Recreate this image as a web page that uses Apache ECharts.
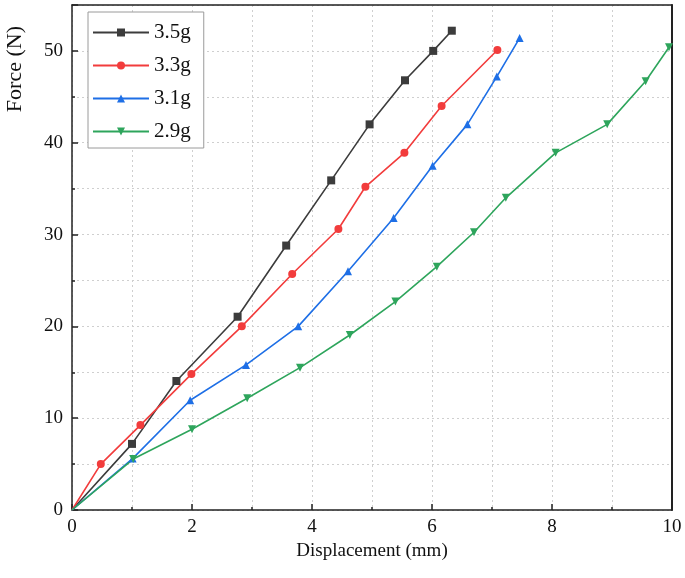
<!DOCTYPE html>
<html><head><meta charset="utf-8">
<script src="https://cdn.jsdelivr.net/npm/echarts@6/dist/echarts.min.js"></script>
<style>html,body{margin:0;padding:0;background:#fff}#c{width:685px;height:578px}</style>
</head><body><div id="c"></div>
<script>
const seriesNames = ['3.5g', '3.3g', '3.1g', '2.9g'];
const x35 = [0, 1.0, 1.74, 2.76, 3.57, 4.32, 4.96, 5.55, 6.02, 6.33];
const y35 = [0, 7.2, 14.05, 21.05, 28.8, 35.9, 42.0, 46.8, 50.0, 52.2];
const x33 = [0, 0.48, 1.14, 1.99, 2.83, 3.67, 4.44, 4.89, 5.54, 6.16, 7.09];
const y33 = [0, 5.0, 9.25, 14.8, 20.0, 25.7, 30.6, 35.2, 38.9, 44.0, 50.1];
const x31 = [0, 1.01, 1.97, 2.9, 3.77, 4.6, 5.36, 6.01, 6.59, 7.08, 7.46];
const y31 = [0, 5.6, 11.95, 15.8, 20.0, 26.0, 31.8, 37.5, 42.0, 47.2, 51.4];
const x29 = [0, 1.02, 2.0, 2.92, 3.8, 4.63, 5.39, 6.08, 6.7, 7.23, 8.06, 8.92, 9.56, 9.95];
const y29 = [0, 5.55, 8.8, 12.17, 15.5, 19.06, 22.7, 26.5, 30.25, 34.0, 38.9, 42.0, 46.7, 50.4];
const xTicks = [0, 2, 4, 6, 8, 10];
const yTicks = [0, 10, 20, 30, 40, 50];

const colors = ['#3c3c3c', '#f23c3c', '#1e6fe6', '#2ea55c'];
const symbols = ['rect', 'circle', 'triangle', 'triangle'];
const rotates = [0, 0, 0, 180];
const xs = [x35, x33, x31, x29], ys = [y35, y33, y31, y29];
const font = '"Liberation Serif", "Times New Roman", serif';

function pts(xa, ya) {
  return xa.map((x, i) => i === 0 ? {value: [x, ya[i]], symbol: 'none'} : [x, ya[i]]);
}

const chart = echarts.init(document.getElementById('c'), null, {renderer: 'canvas'});
const split = {show: true, lineStyle: {color: '#cfcfcf', type: [2, 3], width: 1}};
const axLine = {show: true, onZero: false, lineStyle: {color: '#222', width: 1.5}};
const tick = {show: true, inside: true, length: 6, lineStyle: {color: '#222', width: 1.5}};
const mtick = {show: true, splitNumber: 2, length: 3, lineStyle: {color: '#222', width: 1.5}};
chart.setOption({
  animation: false,
  grid: {left: 72, right: 13, top: 5, bottom: 68},
  legend: {
    left: 88, top: 12, orient: 'vertical',
    data: seriesNames,
    backgroundColor: '#fff', borderColor: '#9a9a9a', borderWidth: 1,
    padding: [10, 13, 6, 4], itemGap: 12, itemWidth: 56, itemHeight: 10,
    textStyle: {fontFamily: font, fontSize: 21, color: '#111', lineHeight: 20}
  },
  xAxis: [{
    type: 'value', min: 0, max: 10, interval: 2,
    name: 'Displacement (mm)', nameLocation: 'middle', nameGap: 30,
    nameTextStyle: {fontFamily: font, fontSize: 19, color: '#111'},
    axisLine: axLine, axisTick: tick, minorTick: mtick,
    axisLabel: {fontFamily: font, fontSize: 19, color: '#111', margin: 8,
      formatter: v => xTicks.includes(v) ? String(v) : ''},
    splitLine: split, minorSplitLine: split
  }, {
    type: 'value', min: 0, max: 10, position: 'top',
    axisLine: axLine, axisTick: {show: false}, axisLabel: {show: false}, splitLine: {show: false}
  }],
  yAxis: [{
    type: 'value', min: 0, max: 55, interval: 10,
    axisLine: axLine, axisTick: tick, minorTick: mtick,
    axisLabel: {fontFamily: font, fontSize: 19, color: '#111', margin: 9,
      formatter: v => yTicks.includes(v) ? String(v) : ''},
    splitLine: split, minorSplitLine: split
  }, {
    type: 'value', min: 0, max: 55, position: 'right',
    axisLine: {show: true, onZero: false, lineStyle: {color: '#222', width: 2}},
    axisTick: {show: false}, axisLabel: {show: false}, splitLine: {show: false}
  }],
  graphic: [{
    type: 'text', left: 4, top: 26, rotation: Math.PI / 2,
    style: {text: 'Force (N)', font: '22px ' + font, fill: '#111'}
  }],
  series: seriesNames.map((n, k) => ({
    name: n, type: 'line',
    data: pts(xs[k], ys[k]),
    symbol: symbols[k], symbolRotate: rotates[k], symbolSize: 8,
    showAllSymbol: true,
    lineStyle: {color: colors[k], width: 1.6},
    itemStyle: {color: colors[k]},
    color: colors[k]
  }))
});
</script></body></html>
